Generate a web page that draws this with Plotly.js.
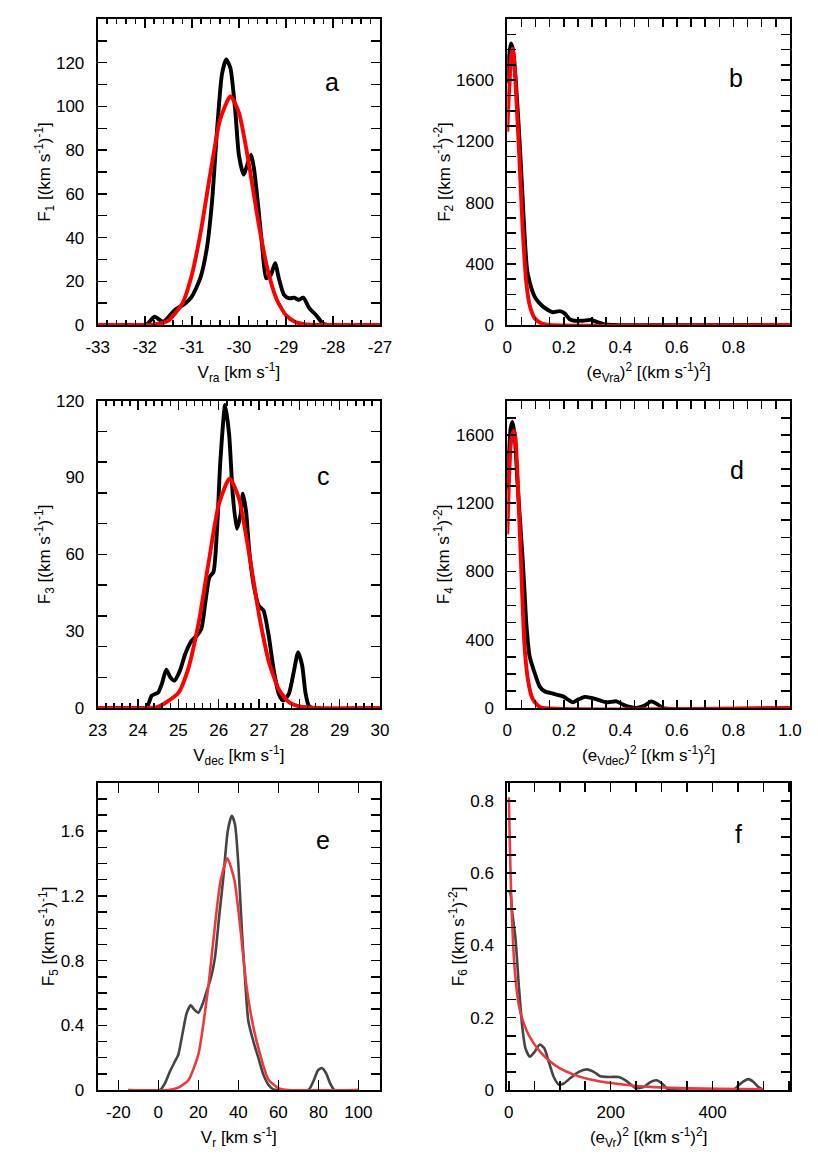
<!DOCTYPE html>
<html>
<head>
<meta charset="utf-8">
<script src="https://cdn.plot.ly/plotly-3.0.1.min.js"></script>
<style>html,body{margin:0;padding:0;background:#fff}</style>
</head>
<body>
<div id="chart" style="width:818px;height:1156px"></div>
<script>
// ---------- Panel a : V_ra ----------
const aBlackX = [-33, -32.0, -31.93, -31.79, -31.61, -31.36, -31.14, -31.0, -30.82, -30.68, -30.57, -30.46, -30.36, -30.27, -30.18, -30.07, -30.0, -29.9, -29.8, -29.74, -29.68, -29.57, -29.5, -29.42, -29.32, -29.23, -29.15, -29.04, -28.93, -28.82, -28.73, -28.63, -28.5, -28.36, -28.22, -28.12, -27];
const aBlackY = [0, 0, 0.8, 3.8, 1.5, 6.9, 9.9, 13, 21.4, 35.2, 56.5, 90.2, 114.6, 121.5, 117.6, 96.3, 77.9, 68.8, 74.8, 77.9, 71.8, 50.4, 35.2, 21.4, 23, 28.3, 21.4, 13.8, 12.2, 12.5, 11.5, 12.5, 7.6, 4.6, 0.8, 0, 0];
const aRedX = [-33, -32.1, -31.8, -31.5, -31.2, -31.0, -30.8, -30.6, -30.4, -30.18, -30.0, -29.8, -29.6, -29.4, -29.2, -29.0, -28.8, -28.6, -28.3, -27];
const aRedY = [0, 0.01, 0.27, 2.0, 9.9, 22.9, 43.8, 70.2, 93.8, 104.7, 97.3, 75.5, 48.9, 26.4, 11.9, 4.5, 1.4, 0.37, 0.03, 0];

// ---------- Panel b : (e_Vra)^2 ----------
const bBlackX = [0, 0.006, 0.013, 0.02, 0.03, 0.045, 0.055, 0.062, 0.07, 0.08, 0.09, 0.1, 0.12, 0.144, 0.161, 0.185, 0.203, 0.22, 0.238, 0.268, 0.297, 0.321, 0.344, 0.37, 1.0];
const bBlackY = [1580, 1760, 1840, 1800, 1600, 1150, 800, 560, 360, 275, 215, 175, 131, 98, 83, 91, 76, 39, 28, 28, 33, 17, 4, 0, 0];
const bRedX = [0, 0.004, 0.0084, 0.013, 0.018, 0.024, 0.032, 0.044, 0.055, 0.067, 0.079, 0.097, 0.12, 0.15, 1.0];
const bRedY = [1263, 1450, 1589, 1742, 1807, 1742, 1480, 1045, 609, 283, 131, 44, 11, 0, 0];

// ---------- Panel c : V_dec ----------
const cBlackX = [23, 24.2, 24.34, 24.5, 24.59, 24.7, 24.8, 24.9, 25.04, 25.17, 25.33, 25.46, 25.57, 25.67, 25.77, 25.87, 25.96, 26.04, 26.16, 26.26, 26.35, 26.45, 26.54, 26.6, 26.68, 26.76, 26.87, 26.99, 27.11, 27.24, 27.36, 27.49, 27.6, 27.74, 27.86, 27.97, 28.07, 28.15, 28.23, 28.31, 30];
const cBlackY = [0, 0, 4.8, 6.1, 9.4, 15, 12, 10.7, 14.6, 21.1, 26.3, 28.3, 30.9, 41.3, 51.1, 53.1, 70, 96.1, 118.3, 106.6, 83.1, 70, 75.3, 83.7, 76.6, 60.9, 47.9, 40, 38.1, 28.3, 15.3, 5.5, 2.9, 5.5, 14, 21.8, 16.6, 6.1, 1, 0, 0];
const cRedX = [23, 24.0, 24.5, 25.0, 25.25, 25.5, 25.75, 26.0, 26.27, 26.5, 26.75, 27.0, 27.25, 27.5, 27.75, 28.0, 28.5, 30];
const cRedY = [0, 0.02, 0.46, 5.9, 15.6, 33, 56.8, 79.3, 89.6, 82, 60.8, 36.5, 17.7, 7, 2.2, 0.6, 0.02, 0];

// ---------- Panel d : (e_Vdec)^2 ----------
const dBlackX = [0, 0.006, 0.012, 0.018, 0.026, 0.035, 0.045, 0.055, 0.062, 0.067, 0.079, 0.097, 0.114, 0.132, 0.162, 0.197, 0.215, 0.232, 0.25, 0.274, 0.297, 0.327, 0.35, 0.386, 0.409, 0.433, 0.456, 0.486, 0.509, 0.533, 0.55, 1.0];
const dBlackY = [1280, 1500, 1640, 1676, 1600, 1350, 1100, 851, 650, 499, 303, 205, 127, 98, 84, 68, 49, 33, 49, 65, 59, 45, 33, 39, 20, 6, 0, 14, 39, 20, 0, 0];
const dRedX = [0, 0.006, 0.013, 0.019, 0.024, 0.029, 0.034, 0.044, 0.053, 0.061, 0.073, 0.088, 0.108, 0.126, 1.0];
const dRedY = [1017, 1340, 1555, 1610, 1624, 1580, 1438, 1047, 655, 362, 166, 59, 14, 0, 0];

// ---------- Panel e : V_r ----------
const eBlackX = [-15, 0.85, 3.35, 5.85, 8.35, 10, 12, 14.2, 16.2, 18, 20, 22, 24.2, 26.3, 28.3, 30.35, 32.5, 34.7, 36.7, 38.3, 40, 41.7, 43.3, 45, 47.5, 50, 52.5, 55, 57.5, 60, 75, 77.5, 79.7, 81.7, 83.8, 85.8, 88, 100];
const eBlackY = [0, 0, 0.043, 0.116, 0.178, 0.219, 0.343, 0.477, 0.524, 0.497, 0.477, 0.528, 0.611, 0.694, 0.818, 1.065, 1.313, 1.602, 1.695, 1.643, 1.396, 1.003, 0.694, 0.425, 0.301, 0.198, 0.095, 0.033, 0.004, 0, 0, 0.054, 0.12, 0.136, 0.105, 0.043, 0, 0];
const eRedX = [-15, 5, 10, 15, 20, 25, 28, 31, 34.5, 38, 41, 44, 47, 50, 55, 60, 65, 100];
const eRedY = [0, 0, 0.015, 0.06, 0.22, 0.64, 0.98, 1.284, 1.433, 1.3, 1.0, 0.65, 0.42, 0.26, 0.065, 0.012, 0, 0];

// ---------- Panel f : (e_Vr)^2 ----------
const fBlackX = [0, 3, 6.5, 13, 19.6, 26.1, 32.7, 41.2, 50.3, 60.8, 69.9, 78.4, 88.2, 98, 107.8, 120.9, 137.3, 153.6, 166.7, 179.7, 199.3, 215.7, 232, 248.4, 264.7, 277.8, 289.5, 300.7, 310.5, 323.5, 441, 451, 460.8, 470.6, 480.4, 490.2, 500];
const fBlackY = [0.55, 0.545, 0.494, 0.42, 0.29, 0.179, 0.115, 0.092, 0.105, 0.126, 0.115, 0.078, 0.036, 0.015, 0.018, 0.033, 0.05, 0.057, 0.05, 0.038, 0.036, 0.036, 0.024, 0.0055, 0.008, 0.022, 0.027, 0.018, 0.004, 0, 0, 0.013, 0.024, 0.03, 0.022, 0.008, 0];
const fRedX = [0, 2, 4.6, 8.5, 13.1, 19.6, 26.1, 35.9, 49, 62, 81.7, 101.3, 127.5, 153.6, 186.3, 219, 251.6, 284.3, 349.7, 415, 500];
const fRedY = [0.81, 0.679, 0.54, 0.401, 0.309, 0.235, 0.198, 0.161, 0.129, 0.105, 0.078, 0.059, 0.0425, 0.031, 0.022, 0.016, 0.011, 0.008, 0.0046, 0.003, 0.002];

// ---------- Tick labels ----------
const aXTicks = [-33, -32, -31, -30, -29, -28, -27];
const aXText = ["-33", "-32", "-31", "-30", "-29", "-28", "-27"];
const aYTicks = [0, 20, 40, 60, 80, 100, 120];
const aYText = ["0", "20", "40", "60", "80", "100", "120"];
const bXTicks = [0, 0.2, 0.4, 0.6, 0.8];
const bXText = ["0", "0.2", "0.4", "0.6", "0.8"];
const bYTicks = [0, 400, 800, 1200, 1600];
const bYText = ["0", "400", "800", "1200", "1600"];
const cXTicks = [23, 24, 25, 26, 27, 28, 29, 30];
const cXText = ["23", "24", "25", "26", "27", "28", "29", "30"];
const cYTicks = [0, 30, 60.001, 90, 120];
const cYText = ["0", "30", "60", "90", "120"];
const dXTicks = [0, 0.2, 0.4, 0.6, 0.8, 1.0];
const dXText = ["0", "0.2", "0.4", "0.6", "0.8", "1.0"];
const dYTicks = [0, 400, 800, 1200, 1600];
const dYText = ["0", "400", "800", "1200", "1600"];
const eXTicks = [-20, 0, 20, 40, 60, 80, 100];
const eXText = ["-20", "0", "20", "40", "60", "80", "100"];
const eYTicks = [0, 0.4, 0.8, 1.2, 1.6];
const eYText = ["0", "0.4", "0.8", "1.2", "1.6"];
const fXTicks = [0, 200, 400];
const fXText = ["0", "200", "400"];
const fYTicks = [0, 0.2, 0.4, 0.6, 0.8];
const fYText = ["0", "0.2", "0.4", "0.6", "0.8"];

const panelLetters = ["a", "b", "c", "d", "e", "f"];

const xTitles = [
  "V<sub>ra</sub> [km s<sup>-1</sup>]",
  "(e<sub>Vra</sub>)<sup>2</sup> [(km s<sup>-1</sup>)<sup>2</sup>]",
  "V<sub>dec</sub> [km s<sup>-1</sup>]",
  "(e<sub>Vdec</sub>)<sup>2</sup> [(km s<sup>-1</sup>)<sup>2</sup>]",
  "V<sub>r</sub> [km s<sup>-1</sup>]",
  "(e<sub>Vr</sub>)<sup>2</sup> [(km s<sup>-1</sup>)<sup>2</sup>]"
];
const yTitles = [
  "F<sub>1</sub> [(km s<sup>-1</sup>)<sup>-1</sup>]",
  "F<sub>2</sub> [(km s<sup>-1</sup>)<sup>-2</sup>]",
  "F<sub>3</sub> [(km s<sup>-1</sup>)<sup>-1</sup>]",
  "F<sub>4</sub> [(km s<sup>-1</sup>)<sup>-2</sup>]",
  "F<sub>5</sub> [(km s<sup>-1</sup>)<sup>-1</sup>]",
  "F<sub>6</sub> [(km s<sup>-1</sup>)<sup>-2</sup>]"
];

// ---------- Layout helpers ----------
const W = 818, H = 1156;
const colX = [[97.7, 380], [507.3, 790]];
const rowY = [[19, 325], [400.7, 708], [782.7, 1090]];
const FONT = "Arial, 'Liberation Sans', Helvetica, sans-serif";

function xDom(c) { return [colX[c][0] / W, colX[c][1] / W]; }
function yDom(r) { return [1 - rowY[r][1] / H, 1 - rowY[r][0] / H]; }

function axis(o) {
  const a = {
    domain: o.domain, anchor: o.anchor, range: o.range,
    tickmode: 'array', tickvals: o.tickvals, ticktext: o.ticktext,
    ticks: 'inside', ticklen: o.ticklen, tickwidth: 1.5, tickcolor: '#000',
    showline: true, linecolor: '#000', linewidth: 2, mirror: 'ticks',
    showgrid: false, zeroline: false, fixedrange: true,
    tickfont: {family: FONT, size: 17, color: '#000'},
    ticklabelstandoff: o.labelStandoff,
    title: {text: o.title, font: {family: FONT, size: 17, color: '#000'}, standoff: o.standoff}
  };
  if (o.minorDtick) {
    a.minor = {ticks: 'inside', tickmode: 'linear', tick0: 0, dtick: o.minorDtick, ticklen: o.minorLen, tickwidth: 1.5, tickcolor: '#000', showgrid: false};
  }
  return a;
}

const dataSets = [
  [aBlackX, aBlackY, aRedX, aRedY],
  [bBlackX, bBlackY, bRedX, bRedY],
  [cBlackX, cBlackY, cRedX, cRedY],
  [dBlackX, dBlackY, dRedX, dRedY],
  [eBlackX, eBlackY, eRedX, eRedY],
  [fBlackX, fBlackY, fRedX, fRedY]
];

const traces = [];
dataSets.forEach((d, i) => {
  const n = i === 0 ? '' : String(i + 1);
  const thin = i >= 4;
  traces.push({x: d[0], y: d[1], xaxis: 'x' + n, yaxis: 'y' + n, type: 'scatter', mode: 'lines',
    line: {color: thin ? '#454545' : '#000000', width: thin ? 2.6 : 3.9, shape: 'spline', smoothing: 0.6},
    hoverinfo: 'skip', showlegend: false});
  traces.push({x: d[2], y: d[3], xaxis: 'x' + n, yaxis: 'y' + n, type: 'scatter', mode: 'lines',
    line: {color: thin ? '#ec3a3c' : '#ff0000', width: thin ? 2.6 : 3.9, shape: 'spline', smoothing: 0.6},
    hoverinfo: 'skip', showlegend: false});
});

const xCfg = [
  {range: [-33, -27], tickvals: aXTicks, ticktext: aXText, ticklen: 9, minorDtick: 0.2, minorLen: 5},
  {range: [0, 1.0], tickvals: bXTicks, ticktext: bXText, ticklen: 8, minorDtick: 0.05, minorLen: 8},
  {range: [23, 30], tickvals: cXTicks, ticktext: cXText, ticklen: 9, minorDtick: 0.2, minorLen: 5},
  {range: [0, 1.0], tickvals: dXTicks, ticktext: dXText, ticklen: 8, minorDtick: 0.05, minorLen: 8},
  {range: [-30.3, 110.8], tickvals: eXTicks, ticktext: eXText, ticklen: 10, minorDtick: 0, minorLen: 0},
  {range: [-3, 552], tickvals: fXTicks, ticktext: fXText, ticklen: 9, minorDtick: 50, minorLen: 9}
];
const yCfg = [
  {range: [0, 140], tickvals: aYTicks, ticktext: aYText, ticklen: 9, minorDtick: 10, minorLen: 9},
  {range: [0, 2000], tickvals: bYTicks, ticktext: bYText, ticklen: 9, minorDtick: 100, minorLen: 9},
  {range: [0, 120], tickvals: cYTicks, ticktext: cYText, ticklen: 0, minorDtick: 12, minorLen: 9},
  {range: [0, 1800], tickvals: dYTicks, ticktext: dYText, ticklen: 9, minorDtick: 100, minorLen: 9},
  {range: [0, 1.9], tickvals: eYTicks, ticktext: eYText, ticklen: 9, minorDtick: 0.1, minorLen: 9},
  {range: [0, 0.85], tickvals: fYTicks, ticktext: fYText, ticklen: 9, minorDtick: 0.05, minorLen: 9}
];

const layout = {
  width: W, height: H, margin: {l: 0, r: 0, t: 0, b: 0},
  paper_bgcolor: '#fff', plot_bgcolor: '#fff',
  font: {family: FONT, size: 17, color: '#000'},
  showlegend: false, annotations: []
};

const letterPos = [[332, 82], [736, 78], [323, 476], [737, 470], [323, 840], [738, 834]];

for (let i = 0; i < 6; i++) {
  const n = i === 0 ? '' : String(i + 1);
  const c = i % 2, r = Math.floor(i / 2);
  layout['xaxis' + n] = axis(Object.assign({domain: xDom(c), anchor: 'y' + n, title: xTitles[i], standoff: 10, labelStandoff: 6}, xCfg[i]));
  layout['yaxis' + n] = axis(Object.assign({domain: yDom(r), anchor: 'x' + n, title: yTitles[i], standoff: 1, labelStandoff: 8}, yCfg[i]));
  layout.annotations.push({text: panelLetters[i], xref: 'paper', yref: 'paper',
    x: letterPos[i][0] / W, y: 1 - letterPos[i][1] / H, xanchor: 'center', yanchor: 'middle',
    showarrow: false, font: {family: FONT, size: 25, color: '#000'}});
}

Plotly.newPlot('chart', traces, layout, {staticPlot: true, displayModeBar: false});
</script>
</body>
</html>
